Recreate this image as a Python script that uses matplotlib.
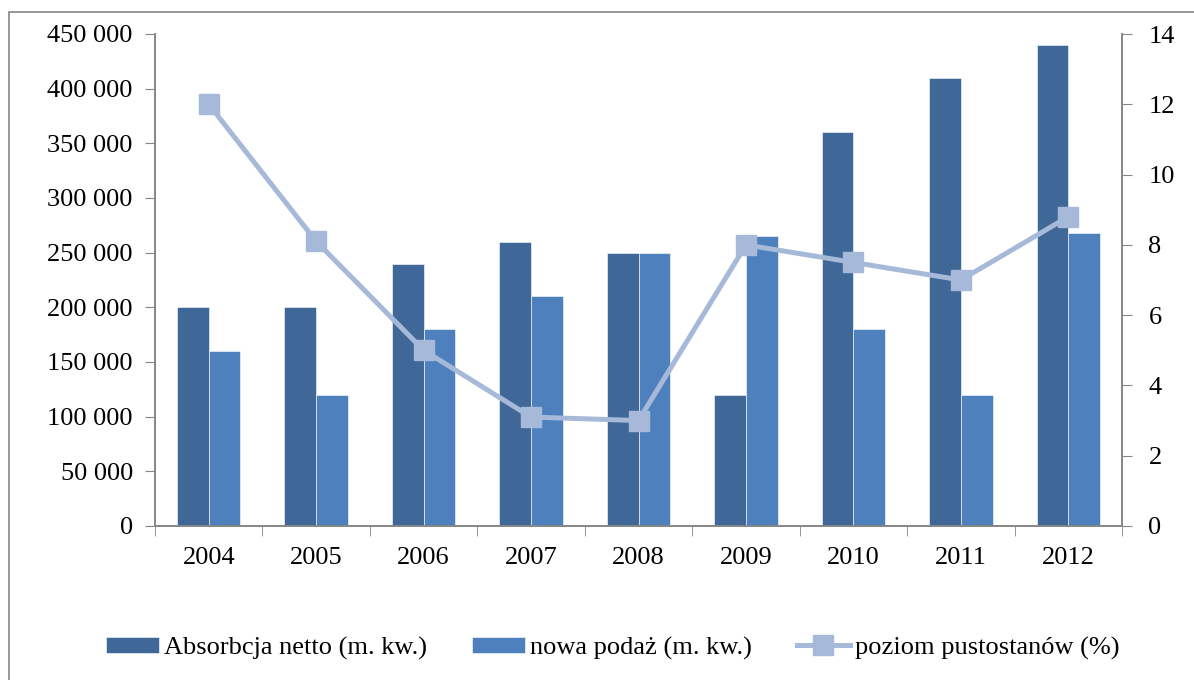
import numpy as np
import matplotlib
matplotlib.use("Agg")
import matplotlib.pyplot as plt
from matplotlib.patches import Rectangle

plt.rcParams['font.family'] = ['Liberation Serif', 'DejaVu Serif']

# data
years = ['2004', '2005', '2006', '2007', '2008', '2009', '2010', '2011', '2012']
absorbcja = [200000, 200000, 240000, 260000, 250000, 120000, 360000, 410000, 440000]
podaz = [160000, 120000, 180000, 210000, 250000, 265000, 180000, 120000, 268000]
pustostany = [12.0, 8.1, 5.0, 3.1, 3.0, 8.0, 7.5, 7.0, 8.8]

c_dark = '#3F6898'
c_light = '#4D80BD'
c_line = '#A7B9D8'
grey = '#868686'
fs = 19

fig = plt.figure(figsize=(11.94, 6.8), dpi=100)
ax = fig.add_axes([155 / 1194, 1 - 526 / 680, (1122 - 155) / 1194, (526 - 34) / 680])

x = np.arange(len(years))
w = 0.295
ax.bar(x - w / 2, absorbcja, w, color=c_dark, edgecolor='white', linewidth=0.4,
       label='Absorbcja netto (m. kw.)', zorder=2)
ax.bar(x + w / 2, podaz, w, color=c_light, edgecolor='white', linewidth=0.4,
       label='nowa podaż (m. kw.)', zorder=2)

ax.set_xlim(-0.5, len(years) - 0.5)
ax.set_ylim(0, 450000)
ax.set_yticks(np.arange(0, 450001, 50000))
ax.set_yticklabels(['0' if v == 0 else f'{v // 1000} 000' for v in range(0, 450001, 50000)])
ax.set_xticks(x)
ax.set_xticklabels(years)
ax.set_xticks(np.arange(-0.5, len(years), 1), minor=True)
ax.tick_params(axis='x', which='major', length=0, pad=15, labelsize=fs)
ax.tick_params(axis='x', which='minor', length=7, color=grey, direction='out')
ax.tick_params(axis='y', length=7, color=grey, labelsize=fs, pad=9)

ax2 = ax.twinx()
ax2.plot(x, pustostany, color=c_line, linewidth=3.6, marker='s', markersize=15,
         label='poziom pustostanów (%)', zorder=3)
ax2.set_ylim(0, 14)
ax2.set_yticks(range(0, 15, 2))
ax2.tick_params(axis='y', length=7, color=grey, labelsize=fs, pad=12)

for a in (ax, ax2):
    a.spines['top'].set_visible(False)
    for s in ('left', 'right', 'bottom'):
        a.spines[s].set_color(grey)
        a.spines[s].set_linewidth(1.2)

h1, l1 = ax.get_legend_handles_labels()
h2, l2 = ax2.get_legend_handles_labels()
fig.legend(h1 + h2, l1 + l2, loc='center', bbox_to_anchor=(613 / 1194, 1 - 648 / 680),
           ncol=3, frameon=False, fontsize=fs, handlelength=2.0, handleheight=0.55,
           handletextpad=0.2, columnspacing=1.7)

# outer chart border
fig.patches.append(Rectangle((9 / 1194, -0.05), 1.1, 1 - 12 / 680 + 0.05,
                             transform=fig.transFigure, fill=False,
                             edgecolor=grey, linewidth=1.2))

fig.savefig('out.png', dpi=100)
